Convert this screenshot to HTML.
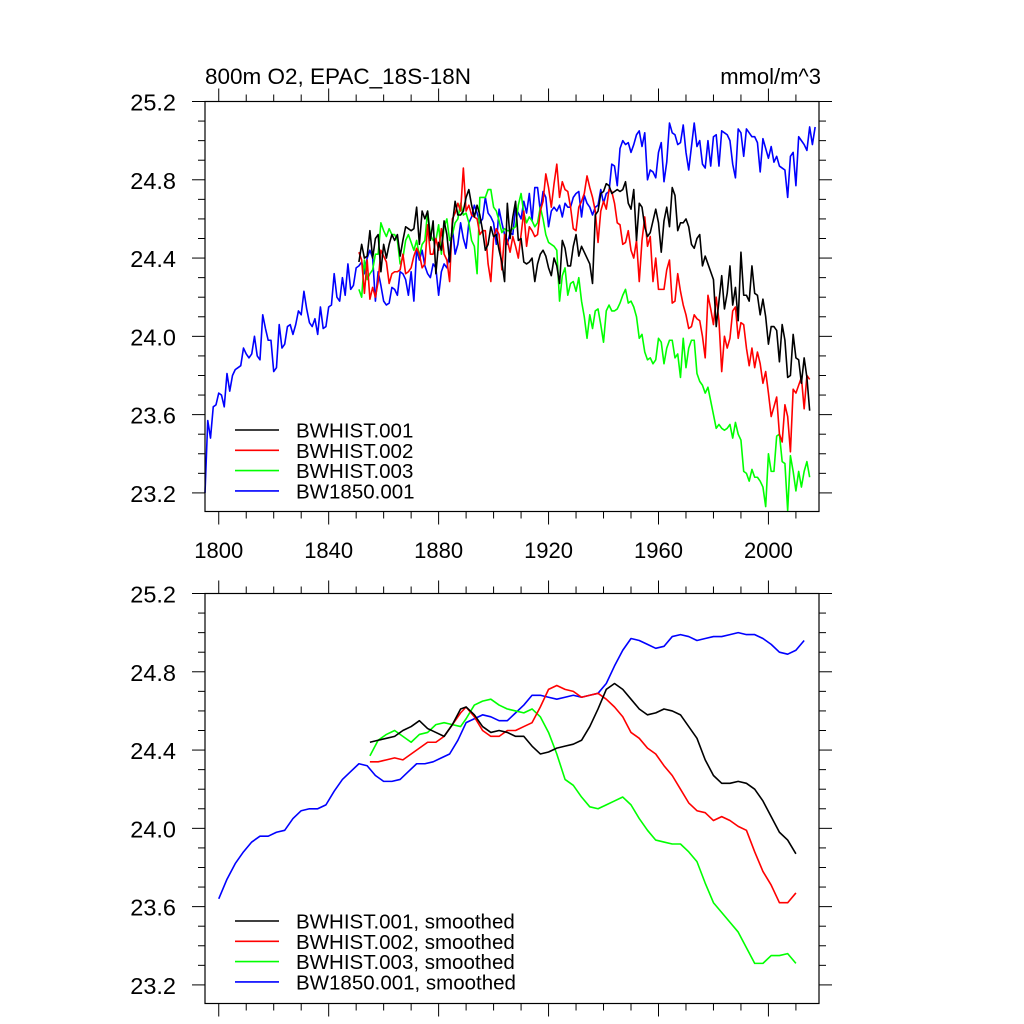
<!DOCTYPE html>
<html><head><meta charset="utf-8"><style>
html,body{margin:0;padding:0;background:#fff;}
svg{display:block;font-family:"Liberation Sans",sans-serif;}
</style></head><body>
<svg id="chart" width="1024" height="1024" viewBox="0 0 1024 1024" xmlns="http://www.w3.org/2000/svg">
<text x="205" y="84" font-size="22.5" fill="#000">800m O2, EPAC_18S-18N</text>
<text x="821" y="84" font-size="22" text-anchor="end" fill="#000">mmol/m^3</text>
</svg>
<script>
// ---- data ----
const rawYearsBlue = [];
for (let y = 1795; y <= 2018; y++) rawYearsBlue.push(y);
const rawYearsHist = [];
for (let y = 1851; y <= 2015; y++) rawYearsHist.push(y);

const rawBlue = [23.2,23.57,23.48,23.64,23.65,23.71,23.70,23.64,23.81,23.72,23.80,23.83,23.84,23.85,23.94,23.91,23.89,23.91,24.00,23.90,23.88,24.11,24.04,23.98,23.98,23.82,23.84,24.06,23.94,23.96,24.05,24.06,24.01,24.06,24.13,24.11,24.23,24.14,24.07,24.05,24.09,24.01,24.15,24.04,24.05,24.15,24.16,24.32,24.20,24.18,24.30,24.21,24.37,24.24,24.26,24.35,24.36,24.38,24.32,24.40,24.44,24.40,24.18,24.33,24.26,24.18,24.16,24.17,24.25,24.24,24.21,24.33,24.32,24.29,24.21,24.33,24.18,24.44,24.39,24.44,24.36,24.32,24.30,24.37,24.35,24.21,24.33,24.37,24.35,24.42,24.56,24.42,24.47,24.58,24.50,24.45,24.58,24.61,24.67,24.63,24.58,24.60,24.71,24.63,24.61,24.58,24.47,24.65,24.58,24.52,24.47,24.53,24.52,24.66,24.63,24.60,24.69,24.63,24.73,24.59,24.76,24.76,24.64,24.74,24.71,24.56,24.64,24.66,24.64,24.67,24.61,24.68,24.66,24.66,24.71,24.73,24.74,24.61,24.72,24.68,24.66,24.62,24.66,24.67,24.75,24.68,24.73,24.74,24.88,24.87,24.77,24.96,25.00,24.98,24.99,24.94,24.98,25.03,25.05,24.97,25.04,24.80,24.85,24.84,24.81,24.94,24.99,24.79,24.89,25.09,25.04,25.03,24.98,24.99,25.08,24.94,24.85,24.97,25.09,24.97,25.00,24.88,24.86,25.00,24.87,25.02,25.03,24.87,25.05,25.04,25.03,25.00,24.88,24.81,25.06,25.04,24.92,25.06,25.04,25.02,25.02,24.99,24.84,25.01,24.96,24.91,24.97,24.89,24.92,24.87,24.86,24.85,24.71,24.92,24.94,24.77,25.02,25.00,24.98,24.95,25.07,24.98,25.07];

const rawBlack = [24.38,24.47,24.40,24.41,24.54,24.40,24.50,24.52,24.33,24.47,24.40,24.47,24.52,24.49,24.52,24.41,24.49,24.56,24.55,24.54,24.55,24.66,24.47,24.64,24.60,24.64,24.49,24.59,24.32,24.48,24.44,24.59,24.52,24.38,24.57,24.69,24.62,24.62,24.64,24.71,24.75,24.67,24.61,24.67,24.62,24.54,24.44,24.47,24.56,24.51,24.52,24.44,24.38,24.28,24.68,24.50,24.61,24.69,24.49,24.50,24.38,24.37,24.38,24.40,24.28,24.37,24.42,24.44,24.41,24.35,24.31,24.40,24.36,24.27,24.49,24.45,24.36,24.36,24.46,24.52,24.41,24.46,24.43,24.40,24.37,24.27,24.62,24.64,24.73,24.74,24.78,24.77,24.73,24.74,24.75,24.74,24.75,24.79,24.68,24.65,24.75,24.49,24.68,24.66,24.56,24.51,24.53,24.59,24.65,24.58,24.43,24.59,24.66,24.56,24.76,24.72,24.54,24.58,24.58,24.60,24.56,24.47,24.45,24.50,24.52,24.36,24.41,24.37,24.33,24.29,24.05,24.18,24.31,24.14,24.22,24.36,24.16,24.25,24.08,24.43,24.21,24.21,24.18,24.36,24.22,24.21,24.11,24.19,24.10,23.96,24.05,24.05,24.03,23.87,24.06,23.98,23.79,23.80,24.01,23.89,23.88,23.76,23.89,23.79,23.62];

const rawRed = [24.43,24.39,24.22,24.39,24.19,24.25,24.20,24.28,24.44,24.41,24.38,24.27,24.32,24.33,24.33,24.34,24.42,24.32,24.33,24.35,24.41,24.45,24.42,24.35,24.37,24.57,24.42,24.42,24.50,24.44,24.55,24.42,24.39,24.28,24.60,24.63,24.68,24.64,24.86,24.64,24.67,24.62,24.61,24.60,24.52,24.54,24.54,24.37,24.28,24.50,24.55,24.52,24.34,24.52,24.49,24.43,24.51,24.46,24.40,24.52,24.64,24.46,24.56,24.54,24.51,24.52,24.64,24.69,24.83,24.76,24.66,24.78,24.88,24.71,24.79,24.75,24.74,24.66,24.55,24.54,24.66,24.69,24.73,24.82,24.76,24.71,24.64,24.48,24.64,24.69,24.65,24.75,24.74,24.68,24.58,24.57,24.47,24.48,24.54,24.44,24.40,24.49,24.28,24.49,24.61,24.46,24.51,24.28,24.40,24.24,24.24,24.24,24.34,24.39,24.17,24.18,24.32,24.23,24.16,24.11,24.04,24.05,24.11,24.09,24.08,24.00,23.89,24.21,24.14,24.06,24.20,24.08,23.82,24.00,23.94,23.99,24.13,24.15,23.99,24.07,24.06,23.94,23.85,23.94,23.84,23.92,23.86,23.76,23.82,23.71,23.59,23.64,23.69,23.50,23.46,23.65,23.59,23.41,23.73,23.71,23.75,23.79,23.63,23.80,23.78];

const rawGreen = [24.24,24.20,24.39,24.29,24.32,24.34,24.42,24.42,24.58,24.54,24.51,24.55,24.52,24.52,24.49,24.37,24.40,24.49,24.52,24.48,24.44,24.49,24.41,24.47,24.49,24.64,24.52,24.49,24.49,24.57,24.42,24.56,24.60,24.49,24.52,24.58,24.60,24.68,24.62,24.63,24.58,24.49,24.46,24.32,24.71,24.71,24.71,24.75,24.75,24.66,24.64,24.59,24.53,24.55,24.54,24.54,24.55,24.56,24.67,24.73,24.63,24.58,24.61,24.59,24.56,24.58,24.66,24.60,24.52,24.48,24.47,24.46,24.44,24.18,24.31,24.35,24.21,24.27,24.28,24.23,24.30,24.18,24.10,23.99,24.11,24.04,24.13,24.14,24.06,23.97,24.13,24.16,24.13,24.13,24.14,24.17,24.21,24.24,24.17,24.18,24.15,24.10,23.99,24.01,23.92,23.88,23.89,23.86,23.88,23.99,23.97,23.86,23.94,23.98,23.98,23.89,23.91,23.79,23.99,23.84,23.94,23.98,23.98,23.81,23.77,23.75,23.71,23.74,23.67,23.60,23.53,23.55,23.53,23.52,23.53,23.55,23.48,23.56,23.50,23.47,23.31,23.30,23.26,23.32,23.28,23.28,23.26,23.23,23.13,23.40,23.31,23.31,23.49,23.50,23.36,23.35,23.11,23.39,23.31,23.21,23.31,23.23,23.31,23.36,23.28];

const smYearsBlue = [1800,1803,1806,1809,1812,1815,1818,1821,1824,1827,1830,1833,1836,1839,1842,1845,1848,1851,1854,1857,1860,1863,1866,1869,1872,1875,1878,1881,1884,1887,1890,1893,1896,1899,1902,1905,1908,1911,1914,1917,1920,1923,1926,1929,1932,1935,1938,1941,1944,1947,1950,1953,1956,1959,1962,1965,1968,1971,1974,1977,1980,1983,1986,1989,1992,1995,1998,2001,2004,2007,2010,2013];
const smBlue = [23.64,23.74,23.82,23.88,23.93,23.96,23.96,23.98,23.99,24.05,24.09,24.10,24.10,24.12,24.19,24.25,24.29,24.33,24.32,24.27,24.24,24.24,24.25,24.29,24.33,24.33,24.34,24.36,24.38,24.45,24.54,24.56,24.58,24.57,24.55,24.55,24.59,24.63,24.68,24.68,24.67,24.66,24.67,24.68,24.67,24.68,24.69,24.74,24.83,24.91,24.97,24.96,24.94,24.92,24.93,24.98,24.99,24.98,24.96,24.97,24.98,24.98,24.99,25.00,24.99,24.99,24.97,24.94,24.90,24.89,24.91,24.96];

const smYearsHist = [1855,1858,1861,1864,1867,1870,1873,1876,1879,1882,1885,1888,1890,1893,1896,1899,1902,1905,1908,1911,1914,1917,1920,1923,1926,1929,1932,1935,1938,1941,1944,1947,1950,1953,1956,1959,1962,1965,1968,1971,1974,1977,1980,1983,1986,1989,1992,1995,1998,2001,2004,2007,2010];
const smBlack = [24.44,24.45,24.46,24.47,24.50,24.52,24.55,24.51,24.49,24.47,24.53,24.61,24.62,24.58,24.52,24.49,24.50,24.49,24.47,24.47,24.42,24.38,24.39,24.41,24.42,24.43,24.45,24.52,24.61,24.71,24.74,24.71,24.66,24.61,24.58,24.59,24.61,24.60,24.58,24.52,24.46,24.35,24.27,24.23,24.23,24.24,24.23,24.20,24.14,24.06,23.98,23.94,23.87];
const smRed = [24.34,24.34,24.35,24.36,24.35,24.38,24.41,24.44,24.44,24.47,24.53,24.59,24.62,24.57,24.50,24.47,24.47,24.50,24.50,24.52,24.54,24.62,24.71,24.73,24.71,24.70,24.67,24.68,24.69,24.66,24.62,24.57,24.49,24.46,24.41,24.38,24.32,24.27,24.20,24.13,24.09,24.08,24.04,24.06,24.04,24.01,23.99,23.88,23.78,23.71,23.62,23.62,23.67];
const smGreen = [24.37,24.45,24.48,24.50,24.47,24.44,24.48,24.49,24.53,24.54,24.53,24.52,24.56,24.63,24.65,24.66,24.63,24.61,24.60,24.59,24.61,24.57,24.49,24.38,24.25,24.22,24.16,24.11,24.10,24.12,24.14,24.16,24.12,24.05,23.99,23.94,23.93,23.92,23.92,23.88,23.83,23.72,23.62,23.57,23.52,23.47,23.39,23.31,23.31,23.35,23.35,23.36,23.31];

const yTicks = [23.2,23.6,24.0,24.4,24.8,25.2];
const yTickLabels = ["23.2","23.6","24.0","24.4","24.8","25.2"];
const xTicks = [1800,1840,1880,1920,1960,2000];
const xTickLabels = ["1800","1840","1880","1920","1960","2000"];
const legendTop = ["BWHIST.001","BWHIST.002","BWHIST.003","BW1850.001"];
const legendBottom = ["BWHIST.001, smoothed","BWHIST.002, smoothed","BWHIST.003, smoothed","BW1850.001, smoothed"];

// ---- layout ----
const NS = "http://www.w3.org/2000/svg";
const svg = document.getElementById("chart");
const X0 = 205, X1 = 819, XMIN = 1795, XMAX = 2018.4;
const YMIN = 23.105, YMAX = 25.2;
function xs(yr){ return X0 + (yr - XMIN) * (X1 - X0) / (XMAX - XMIN); }
function mk(tag, attrs, parent){
  const e = document.createElementNS(NS, tag);
  for (const k in attrs) e.setAttribute(k, attrs[k]);
  (parent || svg).appendChild(e);
  return e;
}
function panel(name, top, bottom, showX, series, legendLabels, legendY){
  const g = mk("g", {});
  
  
  const ys = v => top + (YMAX - v) * (bottom - top) / (YMAX - YMIN);
  series.forEach(s => {
    let d = "";
    s.vals.forEach((v, i) => { d += (i ? "L" : "M") + xs(s.years[i]).toFixed(2) + " " + ys(v).toFixed(2); });
    const p = mk("path", {d: d, fill: "none", stroke: s.color, "stroke-width": "1.6", "stroke-linejoin": "round"}, g);
    
    
  });
  const fr = mk("rect", {x: X0, y: top, width: X1 - X0, height: bottom - top, fill: "none", stroke: "#000", "stroke-width": "1.2"}, g);
  
  
  for (let k = 0; ; k++) {
    const v = 23.2 + k * 0.1;
    if (v > YMAX + 0.001) break;
    const major = (k % 4 === 0);
    const L = major ? 13 : 7;
    const y = ys(v);
    mk("line", {x1: X0 - L, x2: X0, y1: y, y2: y, stroke: "#000", "stroke-width": "1"}, g);
    mk("line", {x1: X1, x2: X1 + L, y1: y, y2: y, stroke: "#000", "stroke-width": "1"}, g);
  }
  yTicks.forEach((v, i) => {
    const t = mk("text", {x: 176, y: ys(v) + 9, "font-size": "23.5", "text-anchor": "end", fill: "#000"}, g);
    t.textContent = yTickLabels[i];
    
    
  });
  for (let yr = 1800; yr <= XMAX; yr += 10) {
    const major = ((yr - 1800) % 40 === 0);
    const L = major ? 13 : 7;
    const x = xs(yr);
    mk("line", {x1: x, x2: x, y1: bottom, y2: bottom + L, stroke: "#000", "stroke-width": "1"}, g);
    mk("line", {x1: x, x2: x, y1: top - L, y2: top, stroke: "#000", "stroke-width": "1"}, g);
  }
  if (showX) {
    xTicks.forEach((yr, i) => {
      const t = mk("text", {x: xs(yr), y: 558, "font-size": "22", "text-anchor": "middle", fill: "#000"}, g);
      t.textContent = xTickLabels[i];
      
      
    });
  }
  const colors = ["#000", "#ff0000", "#00ff00", "#0000ff"];
  legendLabels.forEach((lab, i) => {
    const y = legendY + i * 20.3;
    const ln = mk("line", {x1: 235, x2: 279, y1: y, y2: y, stroke: colors[i], "stroke-width": "1.6"}, g);
    
    
    const t = mk("text", {x: 296, y: y + 7.5, "font-size": "20.5", fill: "#000"}, g);
    t.textContent = lab;
    
    
  });
}
panel("raw-panel", 101.5, 511.5, true, [
  {name: "series-bw1850-001", years: rawYearsBlue, vals: rawBlue, color: "#0000ff"},
  {name: "series-bwhist-003", years: rawYearsHist, vals: rawGreen, color: "#00ff00"},
  {name: "series-bwhist-002", years: rawYearsHist, vals: rawRed, color: "#ff0000"},
  {name: "series-bwhist-001", years: rawYearsHist, vals: rawBlack, color: "#000000"}
], legendTop, 430);
panel("smoothed-panel", 593.5, 1003.5, false, [
  {name: "smoothed-bw1850-001", years: smYearsBlue, vals: smBlue, color: "#0000ff"},
  {name: "smoothed-bwhist-003", years: smYearsHist, vals: smGreen, color: "#00ff00"},
  {name: "smoothed-bwhist-002", years: smYearsHist, vals: smRed, color: "#ff0000"},
  {name: "smoothed-bwhist-001", years: smYearsHist, vals: smBlack, color: "#000000"}
], legendBottom, 921);
</script>
</body></html>
